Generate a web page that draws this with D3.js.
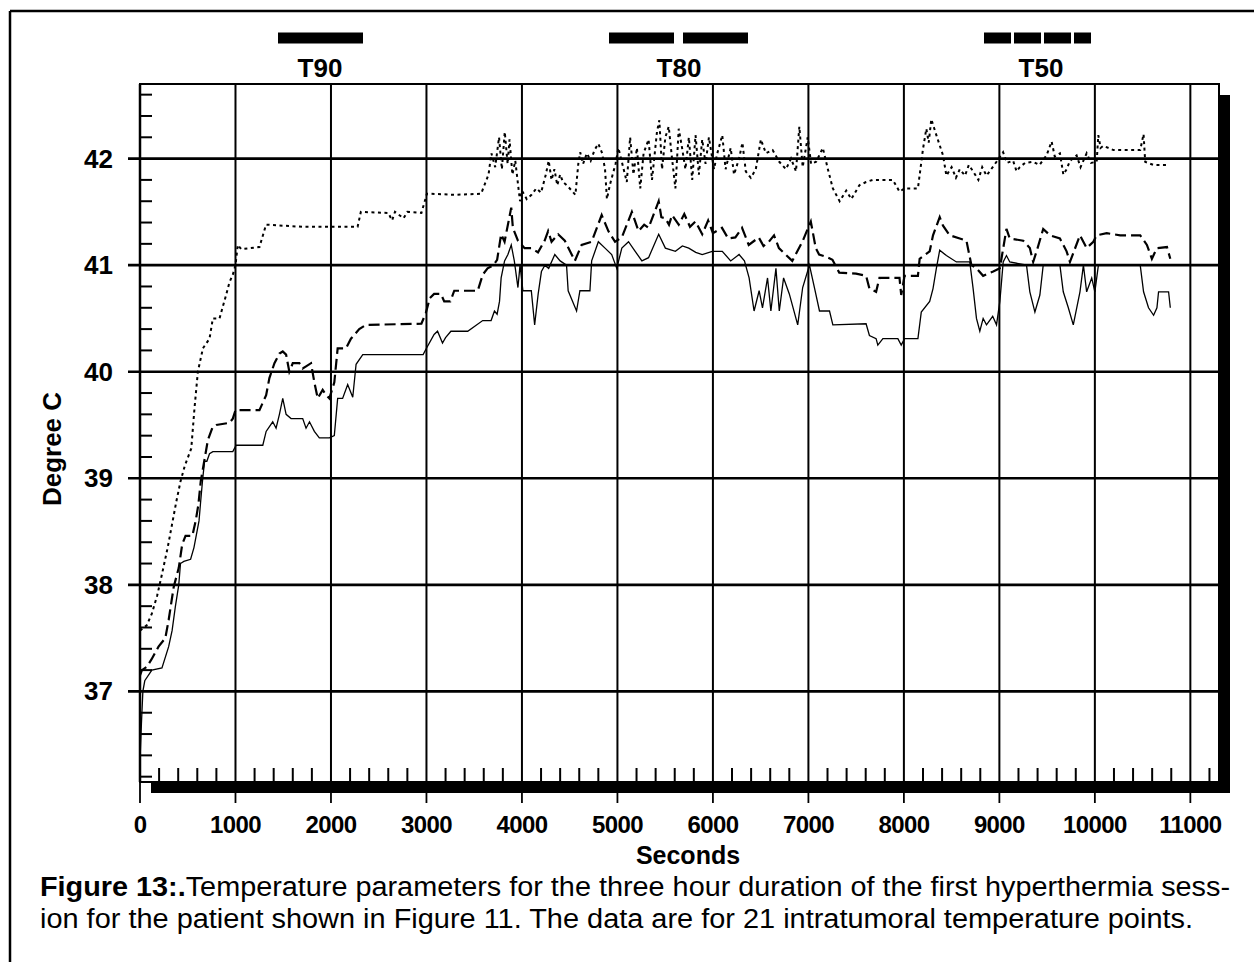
<!DOCTYPE html>
<html>
<head>
<meta charset="utf-8">
<script src="https://d3js.org/d3.v7.min.js"></script>
<style>
  body { margin: 0; background: #fff; }
  svg { display: block; }
  text { font-family: "Liberation Sans", Arial, sans-serif; fill: #000; }
</style>
</head>
<body>
<svg id="chart" width="1254" height="962"></svg>
<script>
// temperature curves, [seconds, degree C]
const t50 = [
  [0, 37.57], [40, 37.6], [70, 37.62], [124, 37.73], [180, 37.9], [230, 38.1], [290, 38.35], [336, 38.57],
  [380, 38.78], [424, 38.97], [470, 39.12], [537, 39.28], [571, 39.66], [606, 40.0], [659, 40.22],
  [728, 40.31], [763, 40.5], [833, 40.5], [870, 40.62], [902, 40.72], [937, 40.84], [972, 40.91],
  [1000, 41.0], [1024, 41.19], [1060, 41.15], [1251, 41.17], [1320, 41.38], [1700, 41.36], [2279, 41.36],
  [2313, 41.5], [2600, 41.49], [2640, 41.42], [2670, 41.5], [2760, 41.44], [2800, 41.5], [2947, 41.49],
  [3005, 41.67], [3045, 41.67], [3300, 41.66], [3572, 41.67], [3607, 41.75], [3650, 41.85], [3680, 42.05],
  [3720, 41.92], [3760, 42.2], [3790, 41.9], [3820, 42.25], [3850, 41.95], [3870, 42.18], [3900, 41.85],
  [3930, 41.98], [3960, 41.75], [3980, 41.6], [4000, 41.7], [4050, 41.62], [4100, 41.66], [4150, 41.72],
  [4200, 41.68], [4250, 41.85], [4280, 41.98], [4310, 41.8], [4340, 41.9], [4370, 41.75], [4400, 41.85],
  [4430, 41.78], [4470, 41.75], [4520, 41.7], [4560, 41.66], [4590, 41.95], [4610, 42.06], [4640, 41.95],
  [4680, 42.05], [4720, 41.98], [4760, 42.08], [4800, 42.14], [4840, 42.05], [4870, 41.9], [4890, 41.62],
  [4920, 41.75], [4950, 41.85], [4980, 41.95], [5010, 42.1], [5046, 41.97], [5098, 41.78], [5133, 42.2],
  [5168, 41.85], [5204, 42.1], [5239, 41.72], [5274, 42.05], [5326, 42.18], [5362, 41.8], [5414, 42.25],
  [5439, 42.36], [5467, 41.9], [5502, 42.2], [5537, 42.3], [5572, 42.0], [5607, 41.72], [5642, 42.28],
  [5677, 42.1], [5712, 41.9], [5748, 42.2], [5783, 41.8], [5818, 42.22], [5853, 41.85], [5888, 42.18],
  [5923, 41.95], [5958, 42.2], [6011, 41.9], [6046, 42.05], [6098, 42.22], [6133, 41.9], [6186, 42.1],
  [6221, 41.85], [6274, 42.0], [6309, 42.15], [6344, 41.88], [6397, 41.82], [6449, 41.9], [6502, 42.18],
  [6555, 42.05], [6625, 42.08], [6695, 41.97], [6765, 41.9], [6818, 42.0], [6870, 41.88], [6905, 42.3],
  [6940, 41.92], [6993, 42.2], [7028, 41.95], [7081, 41.97], [7151, 42.1], [7204, 41.9], [7256, 41.72],
  [7327, 41.6], [7396, 41.7], [7449, 41.62], [7534, 41.75], [7604, 41.78], [7674, 41.8], [7884, 41.8],
  [7954, 41.69], [8007, 41.72], [8147, 41.72], [8200, 42.09], [8235, 42.28], [8260, 42.15], [8287, 42.37],
  [8340, 42.22], [8410, 42.03], [8445, 41.84], [8500, 41.92], [8545, 41.82], [8585, 41.9], [8640, 41.84],
  [8680, 41.94], [8725, 41.88], [8780, 41.8], [8820, 41.92], [8865, 41.84], [8930, 41.92], [8970, 41.97],
  [9039, 42.06], [9080, 41.96], [9144, 41.98], [9180, 41.88], [9214, 41.92], [9270, 41.96], [9354, 41.97],
  [9420, 41.94], [9494, 42.03], [9547, 42.16], [9580, 42.02], [9634, 42.05], [9670, 41.85], [9704, 41.9],
  [9740, 41.98], [9809, 42.03], [9850, 41.92], [9914, 42.05], [9960, 41.96], [10019, 41.97], [10036, 42.22],
  [10060, 42.1], [10089, 42.12], [10194, 42.08], [10475, 42.08], [10510, 42.23], [10527, 41.97],
  [10615, 41.94], [10755, 41.94]
];

const t80 = [
  [0, 37.15], [20, 37.2], [70, 37.23], [120, 37.3], [194, 37.42], [265, 37.5], [300, 37.67], [353, 37.98],
  [406, 38.16], [442, 38.38], [477, 38.46], [548, 38.46], [583, 38.6], [611, 38.75], [636, 38.97],
  [711, 39.36], [760, 39.48], [798, 39.5], [937, 39.52], [972, 39.56], [1000, 39.64], [1251, 39.64],
  [1321, 39.78], [1355, 39.94], [1408, 40.08], [1460, 40.17], [1495, 40.19], [1530, 40.16], [1564, 40.0],
  [1600, 40.08], [1669, 40.08], [1704, 40.03], [1739, 40.05], [1791, 40.08], [1826, 39.9], [1861, 39.75],
  [1913, 39.83], [1950, 39.78], [1983, 39.75], [2035, 39.9], [2070, 40.22], [2157, 40.22], [2209, 40.31],
  [2296, 40.4], [2366, 40.44], [2947, 40.45], [2993, 40.55], [3035, 40.69], [3080, 40.73], [3151, 40.73],
  [3186, 40.66], [3250, 40.66], [3291, 40.76], [3537, 40.76], [3589, 40.91], [3640, 40.97], [3700, 41.0],
  [3740, 41.05], [3782, 41.29], [3818, 41.22], [3888, 41.54], [3905, 41.35], [3958, 41.23], [4028, 41.16],
  [4098, 41.16], [4168, 41.12], [4238, 41.23], [4274, 41.32], [4310, 41.22], [4379, 41.29], [4449, 41.23],
  [4554, 41.04], [4625, 41.19], [4730, 41.22], [4835, 41.47], [4905, 41.32], [4975, 41.22], [5046, 41.26],
  [5151, 41.5], [5221, 41.32], [5280, 41.38], [5326, 41.35], [5432, 41.6], [5460, 41.45], [5502, 41.44],
  [5540, 41.38], [5572, 41.47], [5642, 41.38], [5700, 41.48], [5760, 41.36], [5818, 41.41], [5888, 41.29],
  [5950, 41.42], [6000, 41.3], [6095, 41.35], [6160, 41.25], [6235, 41.26], [6305, 41.35], [6375, 41.19],
  [6480, 41.26], [6530, 41.18], [6586, 41.22], [6640, 41.28], [6691, 41.16], [6761, 41.1], [6831, 41.04],
  [6937, 41.22], [7025, 41.41], [7077, 41.16], [7112, 41.1], [7182, 41.08], [7252, 41.05], [7323, 40.93],
  [7499, 40.92], [7604, 40.9], [7639, 40.78], [7709, 40.75], [7744, 40.88], [7954, 40.88], [7972, 40.72],
  [8007, 40.9], [8147, 40.9], [8165, 41.06], [8270, 41.13], [8305, 41.28], [8375, 41.45], [8410, 41.37],
  [8480, 41.28], [8585, 41.25], [8655, 41.23], [8707, 41.0], [8760, 40.97], [8830, 40.9], [8935, 40.94],
  [9005, 40.97], [9074, 41.34], [9109, 41.25], [9249, 41.23], [9319, 41.16], [9354, 41.03], [9400, 41.16],
  [9459, 41.34], [9529, 41.28], [9634, 41.25], [9704, 41.13], [9739, 41.03], [9844, 41.28], [9914, 41.16],
  [9984, 41.22], [10019, 41.28], [10124, 41.3], [10265, 41.28], [10475, 41.28], [10545, 41.19],
  [10597, 41.06], [10650, 41.16], [10755, 41.17], [10790, 41.06]
];

const t90 = [
  [0, 36.35], [15, 36.7], [30, 37.0], [50, 37.1], [124, 37.2], [230, 37.22], [300, 37.42], [336, 37.57],
  [371, 37.8], [406, 38.0], [424, 38.2], [459, 38.22], [530, 38.24], [565, 38.35], [618, 38.6],
  [636, 38.79], [654, 38.97], [676, 39.16], [700, 39.16], [728, 39.23], [763, 39.25], [972, 39.25],
  [1007, 39.31], [1286, 39.31], [1321, 39.44], [1390, 39.53], [1425, 39.47], [1460, 39.6], [1495, 39.75],
  [1530, 39.6], [1582, 39.56], [1704, 39.56], [1739, 39.47], [1775, 39.53], [1826, 39.44], [1878, 39.38],
  [1983, 39.38], [2035, 39.4], [2070, 39.75], [2122, 39.75], [2175, 39.88], [2228, 39.76], [2263, 40.07],
  [2333, 40.16], [2965, 40.16], [3000, 40.22], [3080, 40.35], [3116, 40.38], [3168, 40.27], [3200, 40.32],
  [3256, 40.38], [3432, 40.38], [3589, 40.48], [3677, 40.48], [3712, 40.57], [3740, 40.54], [3765, 40.66],
  [3782, 40.88], [3818, 41.04], [3853, 41.1], [3888, 41.19], [3920, 41.04], [3958, 40.79], [3980, 41.0],
  [4010, 40.76], [4098, 40.76], [4133, 40.44], [4170, 40.73], [4204, 40.94], [4240, 41.0], [4280, 40.97],
  [4344, 41.1], [4400, 41.04], [4467, 41.0], [4484, 40.76], [4572, 40.57], [4607, 40.76], [4712, 40.76],
  [4730, 41.04], [4800, 41.22], [4870, 41.16], [4940, 41.1], [4993, 40.97], [5046, 41.16], [5116, 41.22],
  [5186, 41.13], [5256, 41.04], [5326, 41.07], [5432, 41.29], [5502, 41.16], [5607, 41.13], [5680, 41.18],
  [5747, 41.16], [5820, 41.12], [5888, 41.1], [5993, 41.13], [6098, 41.13], [6186, 41.04], [6274, 41.1],
  [6330, 41.04], [6379, 40.88], [6431, 40.57], [6484, 40.76], [6519, 40.6], [6572, 40.88], [6607, 40.57],
  [6660, 40.97], [6695, 40.57], [6740, 40.88], [6800, 40.73], [6888, 40.44], [6940, 40.79], [7011, 41.0],
  [7063, 40.79], [7116, 40.57], [7221, 40.57], [7256, 40.44], [7604, 40.45], [7639, 40.34], [7709, 40.31],
  [7727, 40.25], [7780, 40.31], [7937, 40.31], [7972, 40.25], [8007, 40.31], [8147, 40.31], [8182, 40.56],
  [8270, 40.66], [8305, 40.78], [8340, 40.97], [8375, 41.14], [8445, 41.09], [8550, 41.03], [8690, 41.03],
  [8725, 40.78], [8760, 40.5], [8795, 40.38], [8830, 40.5], [8865, 40.44], [8930, 40.52], [8970, 40.44],
  [9005, 40.66], [9040, 41.03], [9074, 41.09], [9109, 41.03], [9284, 41.0], [9319, 40.75], [9372, 40.56],
  [9424, 40.72], [9459, 41.0], [9634, 41.0], [9669, 40.75], [9722, 40.6], [9774, 40.44], [9844, 40.75],
  [9880, 41.0], [9914, 40.75], [9967, 40.88], [10000, 40.75], [10037, 41.0], [10475, 41.0], [10510, 40.75],
  [10562, 40.6], [10615, 40.53], [10650, 40.6], [10667, 40.75], [10772, 40.75], [10790, 40.6]
];

const xMajor = [0, 1000, 2000, 3000, 4000, 5000, 6000, 7000, 8000, 9000, 10000, 11000];
const yMajor = [37, 38, 39, 40, 41, 42];
const legendNames = ["T90", "T80", "T50"];
const captionBold = "Figure 13:.";
const captionLine1 = "Temperature parameters for the three hour duration of the first hyperthermia sess-";
const captionLine2 = "ion for the patient shown in Figure 11. The data are for 21 intratumoral temperature points.";

const svg = d3.select("#chart");

// plot box
const pLeft = 140, pTop = 84, pRight = 1219, pBottom = 782;
const x = d3.scaleLinear().domain([0, 11300]).range([pLeft, pRight]);
const y = d3.scaleLinear().domain([36.15, 42.7]).range([pBottom, pTop]);

// page frame (cut off at right and bottom)
svg.append("line").attr("x1", 10).attr("y1", 11).attr("x2", 1254).attr("y2", 11)
  .attr("stroke", "#000").attr("stroke-width", 2.5);
svg.append("line").attr("x1", 10).attr("y1", 11).attr("x2", 10).attr("y2", 962)
  .attr("stroke", "#000").attr("stroke-width", 2.5);

// drop shadow + plot box
svg.append("rect").attr("x", pLeft + 11).attr("y", pTop + 11)
  .attr("width", pRight - pLeft).attr("height", pBottom - pTop).attr("fill", "#000");
svg.append("rect").attr("x", pLeft).attr("y", pTop)
  .attr("width", pRight - pLeft).attr("height", pBottom - pTop)
  .attr("fill", "#fff").attr("stroke", "#000").attr("stroke-width", 2);

// grid
svg.append("g").selectAll("line").data(yMajor).join("line")
  .attr("x1", pLeft - 12).attr("x2", pRight)
  .attr("y1", d => y(d)).attr("y2", d => y(d))
  .attr("stroke", "#000").attr("stroke-width", 2.6);

svg.append("g").selectAll("line").data(xMajor.filter(d => d > 0)).join("line")
  .attr("x1", d => x(d)).attr("x2", d => x(d))
  .attr("y1", pTop).attr("y2", pBottom)
  .attr("stroke", "#000").attr("stroke-width", 2);

// minor ticks
const yMinor = d3.range(36.2, 42.65, 0.2).filter(v => Math.abs(v - Math.round(v)) > 0.05);
svg.append("g").selectAll("line").data(yMinor).join("line")
  .attr("x1", pLeft).attr("x2", pLeft + 12)
  .attr("y1", d => y(d)).attr("y2", d => y(d))
  .attr("stroke", "#000").attr("stroke-width", 2);

const xMinor = d3.range(200, 11300, 200).filter(v => v % 1000 !== 0);
svg.append("g").selectAll("line").data(xMinor).join("line")
  .attr("x1", d => x(d)).attr("x2", d => x(d))
  .attr("y1", pBottom - 14).attr("y2", pBottom)
  .attr("stroke", "#000").attr("stroke-width", 2);

svg.append("g").selectAll("line").data(xMajor).join("line")
  .attr("x1", d => x(d)).attr("x2", d => x(d))
  .attr("y1", pBottom).attr("y2", pBottom + 21)
  .attr("stroke", "#000").attr("stroke-width", 1.8);

// y axis line
svg.append("line").attr("x1", pLeft).attr("x2", pLeft).attr("y1", pTop).attr("y2", pBottom)
  .attr("stroke", "#000").attr("stroke-width", 2.5);

// tick labels
svg.append("g").selectAll("text").data(yMajor).join("text")
  .attr("x", 113).attr("y", d => y(d) + 9)
  .attr("text-anchor", "end").attr("font-size", 26).attr("font-weight", "bold")
  .text(d => d);

svg.append("g").selectAll("text").data(xMajor).join("text")
  .attr("x", d => x(d)).attr("y", 833)
  .attr("text-anchor", "middle").attr("font-size", 24).attr("font-weight", "bold")
  .attr("letter-spacing", -0.6)
  .text(d => d);

svg.append("text").attr("x", 688).attr("y", 864)
  .attr("text-anchor", "middle").attr("font-size", 25).attr("font-weight", "bold")
  .text("Seconds");

svg.append("text").attr("transform", "translate(61,449) rotate(-90)")
  .attr("text-anchor", "middle").attr("font-size", 26).attr("font-weight", "bold")
  .text("Degree C");

// series
const styles = {
  T90: { data: t90, width: 1.3, dash: null },
  T80: { data: t80, width: 2.2, dash: "11,5" },
  T50: { data: t50, width: 2, dash: "3,3.5" }
};
const line = d3.line().x(d => x(d[0])).y(d => y(d[1]));

legendNames.forEach(name => {
  const s = styles[name];
  svg.append("path").datum(s.data)
    .attr("d", line)
    .attr("fill", "none").attr("stroke", "#000")
    .attr("stroke-width", s.width)
    .attr("stroke-dasharray", s.dash);
});

// legend swatches above the plot
const legendLayout = {
  T90: { x1: 278, x2: 363, dash: null, cx: 320 },
  T80: { x1: 609, x2: 748, dash: "65,9", cx: 679 },
  T50: { x1: 984, x2: 1091, dash: "27,3", cx: 1041 }
};
legendNames.forEach(name => {
  const l = legendLayout[name];
  svg.append("line").attr("x1", l.x1).attr("x2", l.x2).attr("y1", 38).attr("y2", 38)
    .attr("stroke", "#000").attr("stroke-width", 11)
    .attr("stroke-dasharray", l.dash);
  svg.append("text").attr("x", l.cx).attr("y", 77)
    .attr("text-anchor", "middle").attr("font-size", 26).attr("font-weight", "bold")
    .text(name);
});

// caption
const cap1 = svg.append("text").attr("x", 40).attr("y", 896).attr("font-size", 27)
  .attr("textLength", 1190).attr("lengthAdjust", "spacingAndGlyphs");
cap1.append("tspan").attr("font-weight", "bold").text(captionBold);
cap1.append("tspan").text(captionLine1);
svg.append("text").attr("x", 40).attr("y", 928).attr("font-size", 27)
  .attr("textLength", 1153).attr("lengthAdjust", "spacingAndGlyphs")
  .text(captionLine2);
</script>
</body>
</html>
